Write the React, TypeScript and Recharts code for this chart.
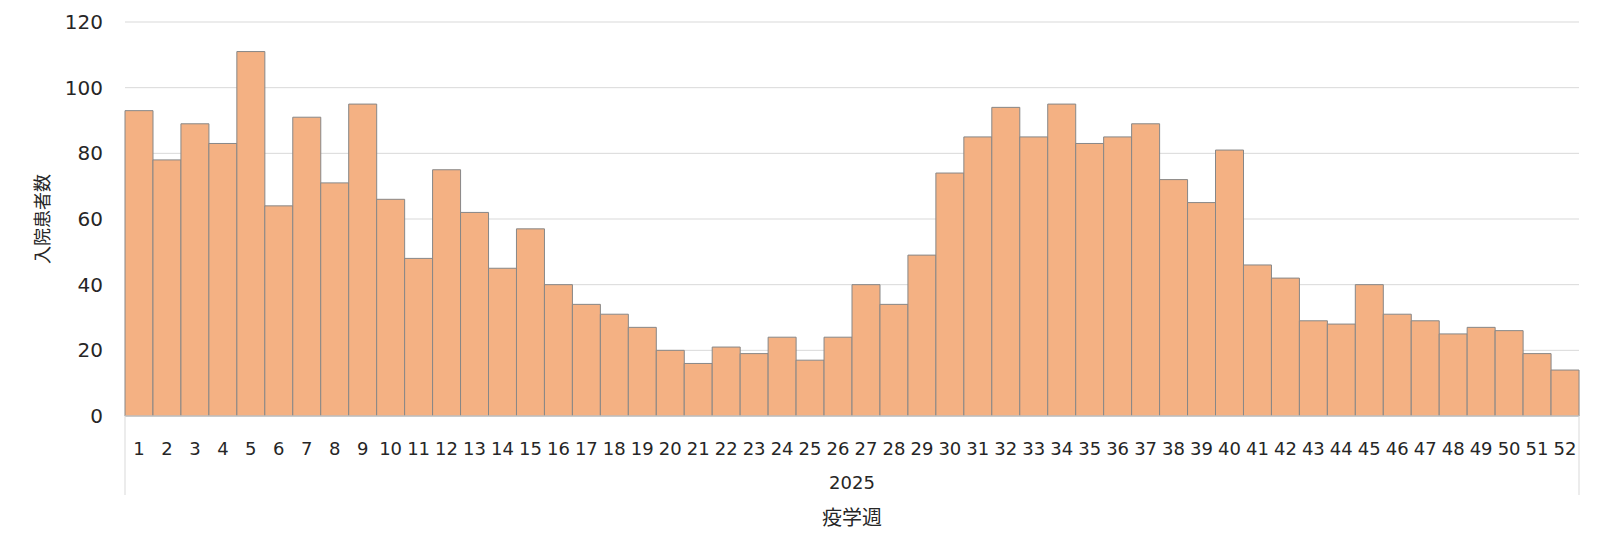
import { BarChart, Bar, XAxis, YAxis, CartesianGrid } from "recharts";

const weeks = Array.from({ length: 52 }, (_, i) => `${i + 1}`);
const admissions = [
  93, 78, 89, 83, 111, 64, 91, 71, 95, 66, 48, 75, 62, 45, 57, 40, 34, 31, 27,
  20, 16, 21, 19, 24, 17, 24, 40, 34, 49, 74, 85, 94, 85, 95, 83, 85, 89, 72,
  65, 81, 46, 42, 29, 28, 40, 31, 29, 25, 27, 26, 19, 14,
];
const yearLabel = "2025";
const yTicks = [0, 20, 40, 60, 80, 100, 120];

const chartData = weeks.map((week, i) => ({
  week,
  admissions: admissions[i],
}));

const font = "'DejaVu Sans', 'Noto Sans CJK JP', sans-serif";
const textColor = "#262626";

const XAxisGroupLabel = ({ viewBox }: any) => {
  const { x, y, width } = viewBox;
  return (
    <g>
      <line x1={x} x2={x} y1={y} y2={y + 79} stroke="#d9d9d9" />
      <line x1={x + width} x2={x + width} y1={y} y2={y + 79} stroke="#d9d9d9" />
      <text
        x={x + width / 2}
        y={y + 73}
        textAnchor="middle"
        fontSize={18}
        fill={textColor}
        fontFamily={font}
      >
        {yearLabel}
      </text>
      <text
        x={x + width / 2}
        y={y + 109}
        textAnchor="middle"
        fontSize={20}
        fill={textColor}
        fontFamily={font}
      >
        疫学週
      </text>
    </g>
  );
};

export default function App() {
  return (
    <div style={{ position: "absolute", left: 0, top: 0, background: "#fff" }}>
      <BarChart
        width={1600}
        height={558}
        data={chartData}
        margin={{ top: 22, right: 21, bottom: 0, left: 0 }}
        barCategoryGap={0}
      >
        <CartesianGrid vertical={false} stroke="#d9d9d9" />
        <XAxis
          dataKey="week"
          height={142}
          interval={0}
          tickLine={false}
          axisLine={{ stroke: "#d9d9d9" }}
          tickMargin={20}
          tick={{ fill: textColor, fontSize: 18, fontFamily: font }}
          label={<XAxisGroupLabel />}
        />
        <YAxis
          width={125}
          domain={[0, 120]}
          ticks={yTicks}
          axisLine={false}
          tickLine={false}
          tickMargin={16}
          tick={{ fill: textColor, fontSize: 20, fontFamily: font }}
          label={{
            value: "入院患者数",
            angle: -90,
            position: "insideLeft",
            dx: 38,
            style: {
              fill: textColor,
              fontSize: 18,
              fontFamily: font,
              textAnchor: "middle",
            },
          }}
        />
        <Bar
          dataKey="admissions"
          fill="#F4B183"
          stroke="#878787"
          strokeWidth={1}
          isAnimationActive={false}
        />
      </BarChart>
    </div>
  );
}
